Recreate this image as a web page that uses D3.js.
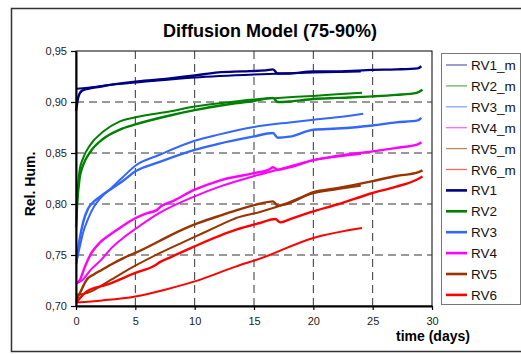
<!DOCTYPE html>
<html>
<head>
<meta charset="utf-8">
<script src="https://cdn.jsdelivr.net/npm/d3@7.9.0/dist/d3.min.js"></script>
<style>
  body { margin: 0; background: #fff; }
  svg { display: block; font-family: "Liberation Sans", Arial, sans-serif; }
</style>
</head>
<body>
<svg id="chart" width="521" height="354"></svg>
<script>
// ---- data: [day, relative humidity] ----
const rv1 = [[0,0.891],[0.2,0.905],[0.5,0.911],[1,0.913],[2,0.915],[3,0.917],[5,0.920],[7,0.922],[10,0.926],[12,0.929],[14,0.930],[16,0.931],[16.6,0.932],[17,0.928],[18,0.928],[20,0.930],[22,0.930],[25,0.9315],[27,0.932],[28.8,0.933],[29.1,0.935]];
const rv2 = [[0,0.777],[0.1,0.800],[0.3,0.825],[0.6,0.838],[1.2,0.851],[2.3,0.864],[3.7,0.873],[5,0.878],[8,0.887],[10,0.892],[13,0.898],[15,0.901],[16.6,0.904],[17,0.900],[18,0.9005],[20,0.903],[22,0.904],[25,0.9055],[27,0.907],[28.7,0.909],[29.2,0.912]];
const rv3 = [[0,0.741],[0.3,0.765],[0.6,0.782],[1,0.795],[1.3,0.800],[2,0.807],[3,0.815],[4,0.823],[5,0.832],[7,0.841],[10,0.853],[12,0.859],[14.9,0.866],[16.6,0.8696],[17,0.865],[18,0.866],[20,0.8728],[22,0.874],[25,0.877],[27,0.880],[28.8,0.882],[29.1,0.8845]];
const rv4 = [[0,0.722],[0.3,0.725],[0.8,0.740],[1.3,0.752],[2,0.762],[3,0.771],[4,0.779],[5,0.786],[6,0.791],[6.8,0.794],[7.2,0.798],[8,0.802],[10,0.814],[12.1,0.823],[14.9,0.830],[16.3,0.834],[16.6,0.836],[17,0.8335],[18,0.836],[20,0.843],[22,0.847],[25,0.8516],[27,0.855],[28.8,0.8585],[29.1,0.8605]];
const rv5 = [[0,0.705],[0.3,0.712],[0.9,0.7258],[1.5,0.731],[2.2,0.7356],[3,0.741],[4,0.747],[5,0.752],[7,0.7635],[8,0.7695],[10,0.780],[12,0.788],[13.5,0.7937],[15.5,0.8003],[16.6,0.8026],[17,0.7985],[18,0.801],[20,0.8115],[22,0.8155],[25,0.8225],[27,0.8275],[28.8,0.831],[29.2,0.833]];
const rv6 = [[0,0.703],[0.9,0.7143],[2.6,0.7209],[5,0.7324],[6.6,0.7395],[7,0.7425],[8,0.748],[10,0.7585],[13.5,0.7748],[15.5,0.7814],[16.8,0.7853],[17.2,0.782],[18,0.785],[20,0.7928],[22,0.7995],[25,0.8108],[27,0.817],[28.7,0.8238],[29.2,0.827]];

const rv1m = [[0,0.913],[1,0.914],[3,0.917],[5,0.919],[10,0.924],[15,0.927],[20,0.929],[24,0.930]];
const rv2m = [[0,0.778],[0.1,0.805],[0.3,0.833],[0.6,0.845],[1.2,0.858],[2.3,0.871],[3.7,0.881],[5,0.885],[8,0.891],[10,0.8955],[13,0.900],[15,0.9025],[17,0.904],[20,0.906],[22,0.9075],[24.1,0.909]];
const rv3m = [[0,0.741],[0.3,0.757],[0.6,0.772],[1,0.785],[1.5,0.797],[2,0.805],[3,0.816],[4,0.827],[5,0.8375],[7,0.848],[10,0.862],[12,0.868],[15,0.8755],[18,0.880],[20,0.8826],[22,0.885],[24.2,0.8885]];
const rv4m = [[0,0.7225],[0.5,0.725],[1.2,0.735],[2.1,0.745],[3,0.757],[4,0.767],[5,0.7755],[7,0.791],[10,0.8075],[12.1,0.817],[14.9,0.827],[17,0.8335],[20,0.843],[24,0.849]];
const rv5m = [[0,0.711],[0.5,0.7115],[1.3,0.7143],[2,0.719],[3,0.726],[4,0.733],[5,0.7395],[7,0.7515],[10,0.7677],[12,0.7785],[13.5,0.7863],[15.5,0.7922],[17,0.7975],[20,0.8105],[22,0.8145],[24,0.818]];
const rv6m = [[0,0.7035],[2.2,0.7055],[5,0.7094],[7.5,0.716],[10,0.7241],[13.5,0.7388],[15.5,0.7464],[20,0.7667],[24.1,0.7765]];

const seriesNames = ["RV1_m","RV2_m","RV3_m","RV4_m","RV5_m","RV6_m","RV1","RV2","RV3","RV4","RV5","RV6"];
const seriesData = [rv1m, rv2m, rv3m, rv4m, rv5m, rv6m, rv1, rv2, rv3, rv4, rv5, rv6];
const seriesColors = ["#000080","#008000","#3366ff","#ff00ff","#993300","#ff0000",
                      "#000080","#008000","#3366ff","#ff00ff","#993300","#ff0000"];
const xTicks = [0, 5, 10, 15, 20, 25, 30];
const yTicks = [0.70, 0.75, 0.80, 0.85, 0.90, 0.95];

const svg = d3.select("#chart");
const plot = { left: 76, right: 432, top: 51, bottom: 306 };

// outer chart frame
svg.append("rect")
  .attr("x", 11.5).attr("y", 8.5)
  .attr("width", 530).attr("height", 343)
  .attr("fill", "#fff")
  .attr("stroke", "#333")
  .attr("stroke-width", 1.5);

const x = d3.scaleLinear().domain([0, 30]).range([plot.left, plot.right]);
const y = d3.scaleLinear().domain([0.70, 0.95]).range([plot.bottom, plot.top]);

// plot area
svg.append("rect")
  .attr("x", plot.left).attr("y", plot.top)
  .attr("width", plot.right - plot.left).attr("height", plot.bottom - plot.top)
  .attr("fill", "#fff")
  .attr("stroke", "#000")
  .attr("stroke-width", 1);

// dashed grid
const grid = svg.append("g")
  .attr("stroke", "#333")
  .attr("stroke-width", 1)
  .attr("stroke-dasharray", "8 5");
grid.selectAll(".gx")
  .data(xTicks.filter(d => d > 0 && d < 30))
  .enter().append("line")
  .attr("x1", d => x(d)).attr("x2", d => x(d))
  .attr("y1", plot.top).attr("y2", plot.bottom);
grid.selectAll(".gy")
  .data(yTicks.filter(d => d > 0.7 && d < 0.95))
  .enter().append("line")
  .attr("x1", plot.left).attr("x2", plot.right)
  .attr("y1", d => y(d)).attr("y2", d => y(d));

// series
const line = d3.line()
  .x(d => x(d[0]))
  .y(d => y(d[1]))
  .curve(d3.curveMonotoneX);

seriesData.forEach((data, i) => {
  svg.append("path")
    .datum(data)
    .attr("fill", "none")
    .attr("stroke", seriesColors[i])
    .attr("stroke-width", i < 6 ? 2 : 2.4)
    .attr("stroke-linejoin", "round")
    .attr("d", line);
});

// axes
const fmt = d => d3.format(".2f")(d).replace(".", ",");
const yAxis = svg.append("g")
  .attr("transform", `translate(${plot.left},0)`)
  .call(d3.axisLeft(y).tickValues(yTicks).tickFormat(fmt).tickSize(5).tickSizeOuter(0).tickPadding(4));
const xAxis = svg.append("g")
  .attr("transform", `translate(0,${plot.bottom})`)
  .call(d3.axisBottom(x).tickValues(xTicks).tickSize(4).tickSizeOuter(0).tickPadding(7));

[yAxis, xAxis].forEach(ax => {
  ax.select(".domain").attr("stroke", "#000").attr("stroke-width", 2);
  ax.selectAll(".tick line").attr("stroke", "#000").attr("stroke-width", 1.2);
  ax.selectAll(".tick text")
    .attr("fill", "#222")
    .attr("font-size", "11px")
    .attr("font-family", "Liberation Sans, Arial, sans-serif");
});

// title and axis labels
svg.append("text")
  .attr("x", 270).attr("y", 37)
  .attr("text-anchor", "middle")
  .attr("font-size", "18px")
  .attr("font-weight", "bold")
  .text("Diffusion Model (75-90%)");

svg.append("text")
  .attr("transform", "translate(35,184) rotate(-90)")
  .attr("text-anchor", "middle")
  .attr("font-size", "14px")
  .attr("font-weight", "bold")
  .text("Rel. Hum.");

svg.append("text")
  .attr("x", 433).attr("y", 341)
  .attr("text-anchor", "middle")
  .attr("font-size", "14px")
  .attr("font-weight", "bold")
  .text("time (days)");

// legend
const legend = svg.append("g").attr("transform", "translate(441,53)");
legend.append("rect")
  .attr("x", 0.5).attr("y", 0.5)
  .attr("width", 79).attr("height", 251)
  .attr("fill", "#fff")
  .attr("stroke", "#777")
  .attr("stroke-width", 1);

seriesNames.forEach((name, i) => {
  const row = legend.append("g").attr("transform", `translate(0,${12 + i * 20.9})`);
  row.append("line")
    .attr("x1", 5).attr("x2", 26)
    .attr("y1", 0).attr("y2", 0)
    .attr("stroke", seriesColors[i])
    .attr("stroke-opacity", i < 6 ? 0.6 : 1)
    .attr("stroke-width", i < 6 ? 1.3 : 2.6);
  row.append("text")
    .attr("x", 30).attr("y", 5)
    .attr("font-size", "13.5px")
    .attr("fill", "#111")
    .text(name);
});
</script>
</body>
</html>
